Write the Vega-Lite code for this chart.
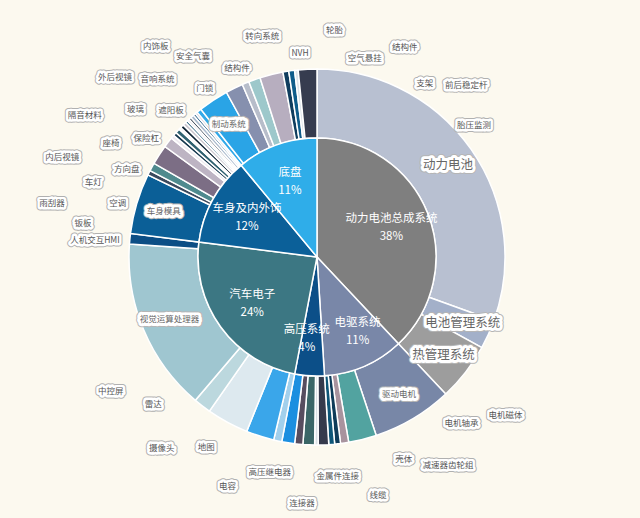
{
  "$schema": "https://vega.github.io/schema/vega-lite/v6.json",
  "width": 640,
  "height": 518,
  "autosize": {"type": "fit", "contains": "padding"},
  "padding": {"left": 0, "top": 0, "right": 6, "bottom": 4},
  "background": "#fcf9ef",
  "config": {"view": {"stroke": null}, "text": {"font": "Noto Sans CJK SC"}},
  "datasets": {
    "inner": [
      {"n": 1, "name": "动力电池总成系统", "value": 0.38},
      {"n": 2, "name": "电驱系统", "value": 0.11},
      {"n": 3, "name": "高压系统", "value": 0.04},
      {"n": 4, "name": "汽车电子", "value": 0.24},
      {"n": 5, "name": "车身及内外饰", "value": 0.12},
      {"n": 6, "name": "底盘", "value": 0.11}
    ],
    "outer": [
      {"n": 1, "name": "动力电池", "value": 0.305},
      {"n": 2, "name": "电池管理系统", "value": 0.025},
      {"n": 3, "name": "热管理系统", "value": 0.05},
      {"n": 4, "name": "驱动电机", "value": 0.069},
      {"n": 5, "name": "电机磁体", "value": 0.024},
      {"n": 6, "name": "电机轴承", "value": 0.007},
      {"n": 7, "name": "减速器齿轮组", "value": 0.005},
      {"n": 8, "name": "壳体", "value": 0.005},
      {"n": 9, "name": "线缆", "value": 0.009},
      {"n": 10, "name": "金属件连接", "value": 0.003},
      {"n": 11, "name": "连接器", "value": 0.01},
      {"n": 12, "name": "高压继电器", "value": 0.007},
      {"n": 13, "name": "电容", "value": 0.011},
      {"n": 14, "name": "地图", "value": 0.007},
      {"n": 15, "name": "摄像头", "value": 0.024},
      {"n": 16, "name": "雷达", "value": 0.036},
      {"n": 17, "name": "中控屏", "value": 0.015},
      {"n": 18, "name": "视觉运算处理器", "value": 0.149},
      {"n": 19, "name": "人机交互HMI", "value": 0.009},
      {"n": 20, "name": "车身模具", "value": 0.052},
      {"n": 21, "name": "钣板", "value": 0.004},
      {"n": 22, "name": "雨刮器", "value": 0.007},
      {"n": 23, "name": "空调", "value": 0.017},
      {"n": 24, "name": "车灯", "value": 0.009},
      {"n": 25, "name": "内后视镜", "value": 0.003},
      {"n": 26, "name": "方向盘", "value": 0.003},
      {"n": 27, "name": "座椅", "value": 0.004},
      {"n": 28, "name": "隔音材料", "value": 0.002},
      {"n": 29, "name": "保险杠", "value": 0.003},
      {"n": 30, "name": "玻璃", "value": 0.003},
      {"n": 31, "name": "外后视镜", "value": 0.002},
      {"n": 32, "name": "遮阳板", "value": 0.002},
      {"n": 33, "name": "音响系统", "value": 0.002},
      {"n": 34, "name": "内饰板", "value": 0.003},
      {"n": 35, "name": "门锁", "value": 0.002},
      {"n": 36, "name": "安全气囊", "value": 0.002},
      {"n": 37, "name": "结构件", "value": 0.004},
      {"n": 38, "name": "制动系统", "value": 0.026},
      {"n": 39, "name": "转向系统", "value": 0.015},
      {"n": 40, "name": "NVH", "value": 0.006},
      {"n": 41, "name": "轮胎", "value": 0.01},
      {"n": 42, "name": "空气悬挂", "value": 0.02},
      {"n": 43, "name": "结构件", "value": 0.005},
      {"n": 44, "name": "支架", "value": 0.005},
      {"n": 45, "name": "前后稳定杆", "value": 0.003},
      {"n": 46, "name": "胎压监测", "value": 0.016}
    ]
  },
  "layer": [
    {
      "data": {"name": "outer"},
      "mark": {"type": "arc", "radius": 188, "radius2": 119, "stroke": "#ffffff", "strokeWidth": 1.5},
      "encoding": {
        "theta": {"field": "value", "type": "quantitative", "stack": true},
        "order": {"field": "n", "type": "quantitative", "sort": "ascending"},
        "color": {"field": "n", "type": "nominal", "legend": null,
          "scale": {"domain": [1,2,3,4,5,6,7,8,9,10,11,12,13,14,15,16,17,18,19,20,21,22,23,24,25,26,27,28,29,30,31,32,33,34,35,36,37,38,39,40,41,42,43,44,45,46],
            "range": ["#b8c0d1","#a3b0c9","#9d9d9d","#7887a7","#52a3a0","#a8939e","#0e3b59","#0d5577","#353a4c","#d9dfe4","#3b6667","#574d5f","#1b8fe0","#a2d0ec","#3aa6ea","#dde9ef","#bcd8de","#9fc6d0","#0c4e85","#0b5f97","#3c4a5e","#4f8a8e","#7c6e85","#bdb4c3","#eeeaf0","#17394f","#2f6170","#f3f3f3","#0e2233","#cac6ce","#1b5673","#eae6ec","#243445","#a9b9cc","#0d4c79","#d8d2da","#33a9e8","#2aa4e6","#8690ae","#b7bdca","#9dc8cb","#b7aebf","#0f3d5e","#0e5c8a","#dde4ea","#363c4f"]}}
      }
    },
    {
      "data": {"name": "inner"},
      "mark": {"type": "arc", "radius": 119, "stroke": "#ffffff", "strokeWidth": 1.5},
      "encoding": {
        "theta": {"field": "value", "type": "quantitative", "stack": true},
        "order": {"field": "n", "type": "quantitative", "sort": "ascending"},
        "color": {"field": "name", "type": "nominal", "legend": null,
          "scale": {"domain": ["动力电池总成系统","电驱系统","高压系统","汽车电子","车身及内外饰","底盘"],
            "range": ["#7f7f7f","#7987a8","#0c4f88","#3c7783","#0b6099","#2fade9"]}}
      }
    },
    {
      "data": {"name": "inner"},
      "encoding": {
        "theta": {"field": "value", "type": "quantitative", "stack": true},
        "order": {"field": "n", "type": "quantitative", "sort": "ascending"}
      },
      "layer": [
        {"mark": {"type": "text", "radius": 80, "dy": -9, "fontSize": 11.5, "color": "#ffffff"},
         "encoding": {"text": {"condition": {"test": "datum.n != 2 && datum.n != 3", "field": "name"}, "value": ""}}},
        {"mark": {"type": "text", "radius": 80, "dy": 9, "fontSize": 11.5, "color": "#ffffff"},
         "encoding": {"text": {"condition": {"test": "datum.n != 2 && datum.n != 3", "field": "value", "format": ".0%"}, "value": ""}}},
        {"mark": {"type": "text", "radius": 82, "dx": 8, "dy": -9, "fontSize": 11.5, "color": "#ffffff"},
         "encoding": {"text": {"condition": {"test": "datum.n == 2", "field": "name"}, "value": ""}}},
        {"mark": {"type": "text", "radius": 82, "dx": 8, "dy": 9, "fontSize": 11.5, "color": "#ffffff"},
         "encoding": {"text": {"condition": {"test": "datum.n == 2", "field": "value", "format": ".0%"}, "value": ""}}},
        {"mark": {"type": "text", "radius": 82, "dx": -5, "dy": -9, "fontSize": 11.5, "color": "#ffffff"},
         "encoding": {"text": {"condition": {"test": "datum.n == 3", "field": "name"}, "value": ""}}},
        {"mark": {"type": "text", "radius": 82, "dx": -5, "dy": 9, "fontSize": 11.5, "color": "#ffffff"},
         "encoding": {"text": {"condition": {"test": "datum.n == 3", "field": "value", "format": ".0%"}, "value": ""}}}
      ]
    },
    {
      "data": {"name": "outer"},
      "encoding": {
        "theta": {"field": "value", "type": "quantitative", "stack": true},
        "order": {"field": "n", "type": "quantitative", "sort": "ascending"},
        "text": {"condition": {"test": "indexof([1,2,3,4,18,20,38], datum.n) >= 0", "field": "name"}, "value": ""},
        "size": {"condition": {"test": "datum.n <= 3", "value": 12.5}, "value": 8.5}
      },
      "layer": [
        {"mark": {"type": "text", "radius": 160, "stroke": "#b5b5b5", "strokeWidth": 8, "strokeJoin": "round", "fill": "#b5b5b5"}},
        {"mark": {"type": "text", "radius": 160, "stroke": "#ffffff", "strokeWidth": 6, "strokeJoin": "round", "fill": "#ffffff"}},
        {"mark": {"type": "text", "radius": 160, "fill": "#666666"}}
      ]
    },
    {
      "data": {"name": "outer"},
      "transform": [
        {"stack": "value", "groupby": [], "sort": [{"field": "n", "order": "ascending"}], "as": ["v0", "v1"]},
        {"filter": "indexof([1,2,3,4,18,20,38], datum.n) < 0 && datum.v0 + datum.v1 < 1.5"},
        {"window": [{"op": "row_number", "as": "k"}], "sort": [{"field": "n", "order": "ascending"}]}
      ],
      "encoding": {
        "theta": {"field": "k", "type": "quantitative", "scale": {"domain": [1, 13], "range": [2.269, 4.136]}},
        "text": {"field": "name", "type": "nominal"}
      },
      "layer": [
        {"transform": [{"filter": "datum.k % 2 == 1"}],
         "layer": [
           {"mark": {"type": "text", "radius": 246, "fontSize": 8.5, "stroke": "#b0b0b0", "strokeWidth": 7, "strokeJoin": "round", "fill": "#b0b0b0"}},
           {"mark": {"type": "text", "radius": 246, "fontSize": 8.5, "stroke": "#ffffff", "strokeWidth": 5, "strokeJoin": "round", "fill": "#ffffff"}},
           {"mark": {"type": "text", "radius": 246, "fontSize": 8.5, "fill": "#555555"}}
         ]},
        {"transform": [{"filter": "datum.k % 2 == 0"}],
         "layer": [
           {"mark": {"type": "text", "radius": 220, "fontSize": 8.5, "stroke": "#b0b0b0", "strokeWidth": 7, "strokeJoin": "round", "fill": "#b0b0b0"}},
           {"mark": {"type": "text", "radius": 220, "fontSize": 8.5, "stroke": "#ffffff", "strokeWidth": 5, "strokeJoin": "round", "fill": "#ffffff"}},
           {"mark": {"type": "text", "radius": 220, "fontSize": 8.5, "fill": "#555555"}}
         ]}
      ]
    },
    {
      "data": {"name": "outer"},
      "transform": [
        {"stack": "value", "groupby": [], "sort": [{"field": "n", "order": "ascending"}], "as": ["v0", "v1"]},
        {"filter": "indexof([1,2,3,4,18,20,38], datum.n) < 0 && datum.v0 + datum.v1 >= 1.5"},
        {"window": [{"op": "row_number", "as": "k"}], "sort": [{"field": "n", "order": "ascending"}]}
      ],
      "encoding": {
        "theta": {"field": "k", "type": "quantitative", "scale": {"domain": [1, 17, 18, 26], "range": [4.7997, 5.7945, 5.8818, 7.1558]}},
        "text": {"field": "name", "type": "nominal"}
      },
      "layer": [
        {"transform": [{"filter": "datum.k <= 17 && datum.k % 3 == 1"}],
         "layer": [
           {"mark": {"type": "text", "radius": 198, "align": "right", "fontSize": 8.5, "stroke": "#b0b0b0", "strokeWidth": 7, "strokeJoin": "round", "fill": "#b0b0b0"}},
           {"mark": {"type": "text", "radius": 198, "align": "right", "fontSize": 8.5, "stroke": "#ffffff", "strokeWidth": 5, "strokeJoin": "round", "fill": "#ffffff"}},
           {"mark": {"type": "text", "radius": 198, "align": "right", "fontSize": 8.5, "fill": "#555555"}}
         ]},
        {"transform": [{"filter": "datum.k <= 17 && datum.k % 3 == 2"}],
         "layer": [
           {"mark": {"type": "text", "radius": 228, "align": "right", "fontSize": 8.5, "stroke": "#b0b0b0", "strokeWidth": 7, "strokeJoin": "round", "fill": "#b0b0b0"}},
           {"mark": {"type": "text", "radius": 228, "align": "right", "fontSize": 8.5, "stroke": "#ffffff", "strokeWidth": 5, "strokeJoin": "round", "fill": "#ffffff"}},
           {"mark": {"type": "text", "radius": 228, "align": "right", "fontSize": 8.5, "fill": "#555555"}}
         ]},
        {"transform": [{"filter": "datum.k <= 17 && datum.k % 3 == 0"}],
         "layer": [
           {"mark": {"type": "text", "radius": 258, "align": "right", "fontSize": 8.5, "stroke": "#b0b0b0", "strokeWidth": 7, "strokeJoin": "round", "fill": "#b0b0b0"}},
           {"mark": {"type": "text", "radius": 258, "align": "right", "fontSize": 8.5, "stroke": "#ffffff", "strokeWidth": 5, "strokeJoin": "round", "fill": "#ffffff"}},
           {"mark": {"type": "text", "radius": 258, "align": "right", "fontSize": 8.5, "fill": "#555555"}}
         ]},
        {"transform": [{"filter": "datum.k > 17 && datum.k % 2 == 0"}],
         "layer": [
           {"mark": {"type": "text", "radius": 205, "fontSize": 8.5, "stroke": "#b0b0b0", "strokeWidth": 7, "strokeJoin": "round", "fill": "#b0b0b0"}},
           {"mark": {"type": "text", "radius": 205, "fontSize": 8.5, "stroke": "#ffffff", "strokeWidth": 5, "strokeJoin": "round", "fill": "#ffffff"}},
           {"mark": {"type": "text", "radius": 205, "fontSize": 8.5, "fill": "#555555"}}
         ]},
        {"transform": [{"filter": "datum.k > 17 && datum.k % 2 == 1"}],
         "layer": [
           {"mark": {"type": "text", "radius": 228, "fontSize": 8.5, "stroke": "#b0b0b0", "strokeWidth": 7, "strokeJoin": "round", "fill": "#b0b0b0"}},
           {"mark": {"type": "text", "radius": 228, "fontSize": 8.5, "stroke": "#ffffff", "strokeWidth": 5, "strokeJoin": "round", "fill": "#ffffff"}},
           {"mark": {"type": "text", "radius": 228, "fontSize": 8.5, "fill": "#555555"}}
         ]}
      ]
    }
  ],
  "resolve": {"scale": {"theta": "independent", "color": "independent", "size": "independent"}}
}
